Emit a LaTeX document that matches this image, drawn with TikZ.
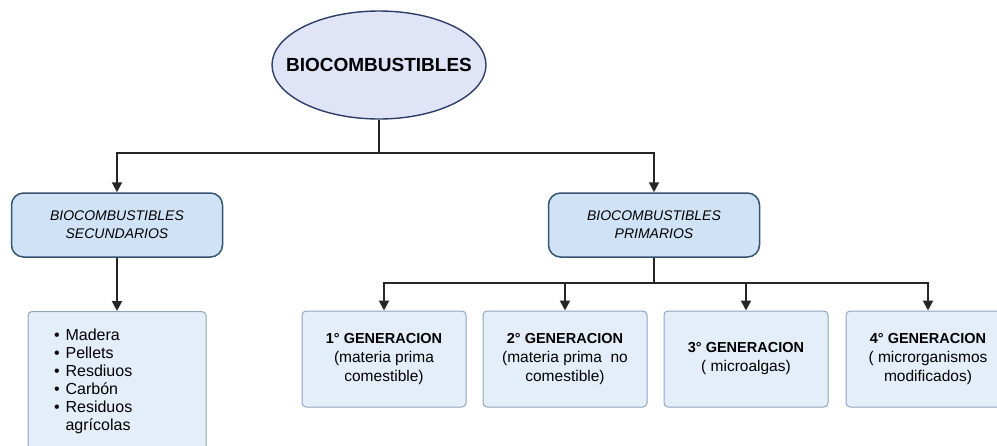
\documentclass[tikz,border=0pt]{standalone}
\usepackage{fontspec}
\setmainfont{Liberation Sans}
\usetikzlibrary{arrows.meta,shapes.geometric}
\definecolor{ellfill}{HTML}{DFE5F7}
\definecolor{elldraw}{HTML}{2E3C68}
\definecolor{kindfill}{HTML}{D0E3F6}
\definecolor{kinddraw}{HTML}{36536F}
\definecolor{genfill}{HTML}{E4EEF9}
\definecolor{gendraw}{HTML}{8DA5BF}

\begin{document}
\begin{tikzpicture}[x=1pt, y=-1pt,
    link/.style={line width=2pt, draw=black!85},
    arr/.style={link, -{Triangle[length=10pt,width=10pt]}},
    top node/.style={ellipse, draw=elldraw, fill=ellfill, line width=1.4pt, minimum width=214pt, minimum height=108pt},
    kind node/.style={rectangle, rounded corners=12pt, draw=kinddraw, fill=kindfill, line width=1.5pt, minimum width=211pt, minimum height=64pt, align=center, font=\fontsize{14}{18}\selectfont\itshape},
    gen node/.style={rectangle, rounded corners=4pt, draw=gendraw, fill=genfill, line width=1pt, minimum width=164pt, minimum height=96pt, align=center, font=\fontsize{15.5}{19}\selectfont}]

                \useasboundingbox (0,0) rectangle (997,445);
                \clip (0,0) rectangle (997,445);

                \node[top node] at (379, 65) (bio) {};
                \node[font=\fontsize{19}{22}\selectfont\bfseries] at (bio.center) (biotext) {BIOCOMBUSTIBLES};

                \node[kind node] at (117, 225) (sec) {BIOCOMBUSTIBLES\\SECUNDARIOS};
                \node[kind node] at (654, 225) (pri) {BIOCOMBUSTIBLES\\PRIMARIOS};

                \node[gen node, anchor=north, minimum height=140pt, text width=126pt, inner xsep=26pt, align=left,
                      font=\fontsize{16}{18}\selectfont] at (117, 311) (list) {%
                    \begin{tabular}{@{}l@{\hspace{6pt}}l@{}}
                    • & Madera\\
                    • & Pellets\\
                    • & Resdiuos\\
                    • & Carbón\\
                    • & Residuos\\
                      & agrícolas
                    \end{tabular}};

                \node[gen node] at (384, 359) (g1) {{\fontsize{14.5}{19}\selectfont\bfseries 1° GENERACION}\\(materia prima\\comestible)};
                \node[gen node] at (565, 359) (g2) {{\fontsize{14.5}{19}\selectfont\bfseries 2° GENERACION}\\(materia prima\ \ no\\comestible)};
                \node[gen node] at (746, 359) (g3) {{\fontsize{14.5}{19}\selectfont\bfseries 3° GENERACION}\\( microalgas)};
                \node[gen node] at (928, 359) (g4) {{\fontsize{14.5}{19}\selectfont\bfseries 4° GENERACION}\\( microrganismos\\modificados)};

                \coordinate (top split) at (379, 153);
                \coordinate (gen split) at (654, 283);

                \draw[link] (bio.south) -- (top split);
                \draw[arr] (top split) -| (sec.north);
                \draw[arr] (top split) -| (pri.north);
                \draw[arr] (sec.south) -- (list.north);
                \draw[link] (pri.south) -- (gen split);
                \foreach \g in {g1, g2, g3, g4}
                    \draw[arr] (gen split) -| (\g.north);
            \end{tikzpicture}
\end{document}
